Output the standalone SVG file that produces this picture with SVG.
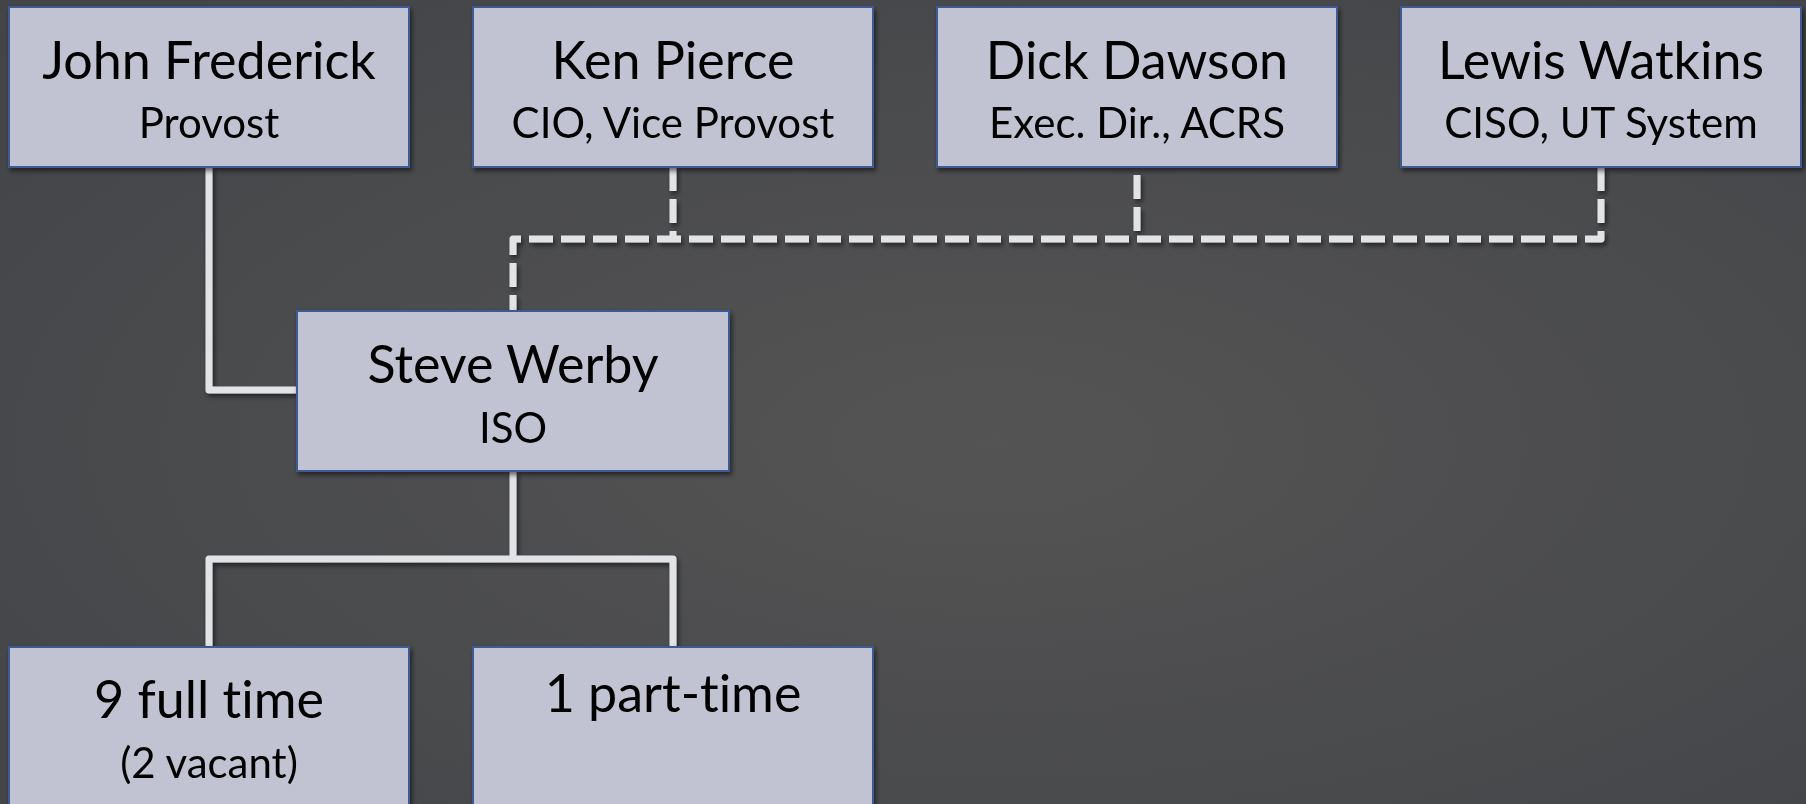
<svg xmlns="http://www.w3.org/2000/svg" width="1806" height="804" viewBox="0 0 1806 804">
<defs>
<radialGradient id="bg" cx="0.55" cy="0.55" r="0.75">
<stop offset="0" stop-color="#545454"/>
<stop offset="1" stop-color="#434448"/>
</radialGradient>
<filter id="sh" x="-10%" y="-10%" width="130%" height="130%">
<feGaussianBlur in="SourceAlpha" stdDeviation="2.5"/>
<feOffset dx="2" dy="3" result="b"/>
<feComponentTransfer><feFuncA type="linear" slope="0.55"/></feComponentTransfer>
<feMerge><feMergeNode/><feMergeNode in="SourceGraphic"/></feMerge>
</filter>
<style>
.box{fill:#c1c3d2;stroke:#3e5a95;stroke-width:2}
.name{font-family:Lato,"Liberation Sans",sans-serif;font-size:52px;fill:#000;text-anchor:middle;font-variant-ligatures:none}
.title{font-family:Lato,"Liberation Sans",sans-serif;font-size:42px;fill:#000;text-anchor:middle;font-variant-ligatures:none}
.solid{fill:none;stroke:#e1e3e7;stroke-width:7;stroke-linejoin:round}
.dash{fill:none;stroke:#e1e3e7;stroke-width:7;stroke-dasharray:24 8;stroke-linejoin:round}
</style>
</defs>
<rect width="1806" height="804" fill="url(#bg)"/>
<g id="connectors" filter="url(#sh)">
<path class="solid" d="M209 167 V390 H297"/>
<path class="solid" d="M513 471 V559 M513 559 H209 V647 M513 559 H673 V647"/>
<path class="dash" d="M673 167 V239"/>
<path class="dash" d="M1137 175 V239"/>
<path class="dash" d="M1601 167 V239 H513 V311"/>
</g>
<g id="john" filter="url(#sh)">
<rect class="box" x="9" y="7" width="400" height="160"/>
<text class="name" x="209" y="79">John Frederick</text>
<text class="title" x="209" y="138">Provost</text>
</g>
<g id="ken" filter="url(#sh)">
<rect class="box" x="473" y="7" width="400" height="160"/>
<text class="name" x="673" y="79">Ken Pierce</text>
<text class="title" x="673" y="138">CIO, Vice Provost</text>
</g>
<g id="dick" filter="url(#sh)">
<rect class="box" x="937" y="7" width="400" height="160"/>
<text class="name" x="1137" y="79">Dick Dawson</text>
<text class="title" x="1137" y="138">Exec. Dir., ACRS</text>
</g>
<g id="lewis" filter="url(#sh)">
<rect class="box" x="1401" y="7" width="400" height="160"/>
<text class="name" x="1601" y="79">Lewis Watkins</text>
<text class="title" x="1601" y="138">CISO, UT System</text>
</g>
<g id="steve" filter="url(#sh)">
<rect class="box" x="297" y="311" width="432" height="160"/>
<text class="name" x="513" y="383">Steve Werby</text>
<text class="title" x="513" y="443">ISO</text>
</g>
<g id="fulltime" filter="url(#sh)">
<rect class="box" x="9" y="647" width="400" height="170"/>
<text class="name" x="209" y="718">9 full time</text>
<text class="title" x="209" y="778">(2 vacant)</text>
</g>
<g id="parttime" filter="url(#sh)">
<rect class="box" x="473" y="647" width="400" height="170"/>
<text class="name" x="673" y="712">1 part-time</text>
</g>
</svg>
